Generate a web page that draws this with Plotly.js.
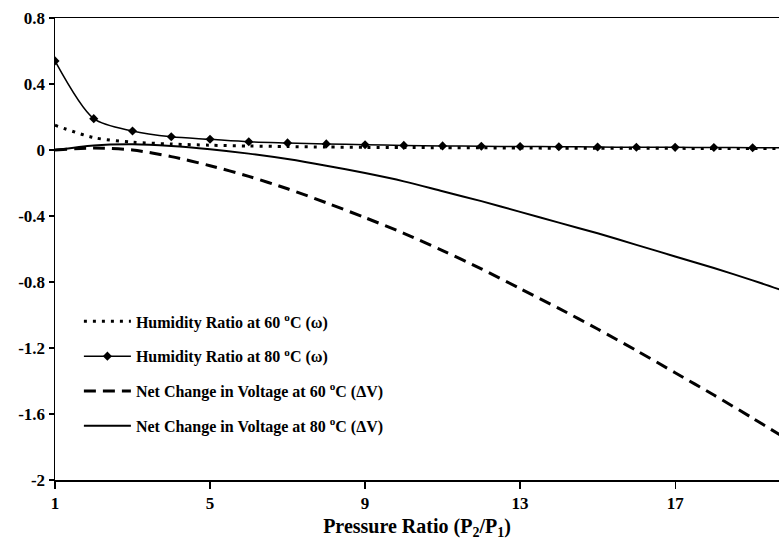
<!DOCTYPE html>
<html>
<head>
<meta charset="utf-8">
<script src="https://cdn.plot.ly/plotly-3.0.1.min.js"></script>
<style>html,body{margin:0;padding:0;background:#fff;}#chart{width:779px;height:540px;}</style>
</head>
<body>
<div id="chart"></div>
<script>
var pressureRatio = [1,2,3,4,5,6,7,8,9,10,11,12,13,14,15,16,17,18,19,20];
var humidity60 = [0.15,0.075,0.048,0.036,0.029,0.024,0.021,0.018,0.016,0.015,0.014,0.013,0.012,0.011,0.011,0.010,0.010,0.009,0.009,0.008];
var humidity80 = [0.54,0.19,0.115,0.08,0.065,0.05,0.043,0.037,0.032,0.028,0.025,0.023,0.021,0.02,0.018,0.017,0.016,0.015,0.014,0.013];
var voltage60 = [0.0,0.012,0.0,-0.04,-0.095,-0.16,-0.235,-0.32,-0.41,-0.505,-0.61,-0.72,-0.84,-0.96,-1.085,-1.215,-1.35,-1.485,-1.625,-1.77];
var voltage80 = [0.0,0.028,0.035,0.025,0.005,-0.022,-0.055,-0.095,-0.14,-0.19,-0.25,-0.31,-0.375,-0.44,-0.505,-0.575,-0.645,-0.715,-0.79,-0.87];
var names = [
  'Humidity Ratio at 60 <sup>o</sup>C (\u03c9)',
  'Humidity Ratio at 80 <sup>o</sup>C (\u03c9)',
  'Net Change in Voltage at 60 <sup>o</sup>C (\u0394V)',
  'Net Change in Voltage at 80 <sup>o</sup>C (\u0394V)'
];
var xTicks = [1,5,9,13,17];
var yTicks = [-2,-1.6,-1.2,-0.8,-0.4,0,0.4,0.8];
var yTickText = ['-2','-1.6','-1.2','-0.8','-0.4','0','0.4','0.8'];

var fontFam = 'Liberation Serif';
var traces = [
  {x: pressureRatio, y: humidity60, name: names[0], mode: 'lines', legendgroup: 'a',
   line: {color: '#000', width: 3, dash: '3px,6px', shape: 'spline', smoothing: 0.8}},
  {x: pressureRatio, y: humidity80, name: names[1], mode: 'lines+markers', legendgroup: 'b',
   line: {color: '#000', width: 1.5, shape: 'spline', smoothing: 0.8},
   marker: {symbol: 'diamond', size: 7, color: '#000'}},
  {x: pressureRatio, y: voltage60, name: names[2], mode: 'lines', legendgroup: 'c',
   line: {color: '#000', width: 3, dash: '12px,7px', shape: 'spline', smoothing: 0.8}},
  {x: pressureRatio, y: voltage80, name: names[3], mode: 'lines', legendgroup: 'd',
   line: {color: '#000', width: 2, shape: 'spline', smoothing: 0.8}}
];

var layout = {
  width: 779, height: 540,
  margin: {l: 55, r: 0, t: 18, b: 60},
  paper_bgcolor: '#fff', plot_bgcolor: '#fff',
  font: {family: fontFam, color: '#000'},
  showlegend: true,
  legend: {x: 0.033, y: 0.38, xanchor: 'left', yanchor: 'top', bgcolor: 'rgba(0,0,0,0)',
    traceorder: 'grouped', tracegroupgap: 11, itemwidth: 47,
    font: {family: fontFam, size: 16, weight: 'bold', color: '#000'}},
  xaxis: {
    range: [1, 19.68], tickvals: xTicks, ticktext: xTicks.map(String),
    showgrid: false, zeroline: false, showline: true, linecolor: '#000', linewidth: 1.5,
    mirror: true, ticks: 'outside', ticklen: 7, tickwidth: 1.2, tickcolor: '#000',
    tickfont: {family: fontFam, size: 17, weight: 'bold'},
    title: {text: 'Pressure Ratio (P<sub>2</sub>/P<sub>1</sub>)', standoff: 8,
      font: {family: fontFam, size: 20, weight: 'bold'}}
  },
  yaxis: {
    range: [-2, 0.8], tickvals: yTicks, ticktext: yTickText,
    showgrid: false, zeroline: false, showline: true, linecolor: '#000', linewidth: 1.5,
    ticks: 'outside', ticklen: 5, tickwidth: 1.2, tickcolor: '#000',
    tickfont: {family: fontFam, size: 17, weight: 'bold'}
  }
};
Plotly.newPlot('chart', traces, layout, {displayModeBar: false, staticPlot: true});
</script>
</body>
</html>
